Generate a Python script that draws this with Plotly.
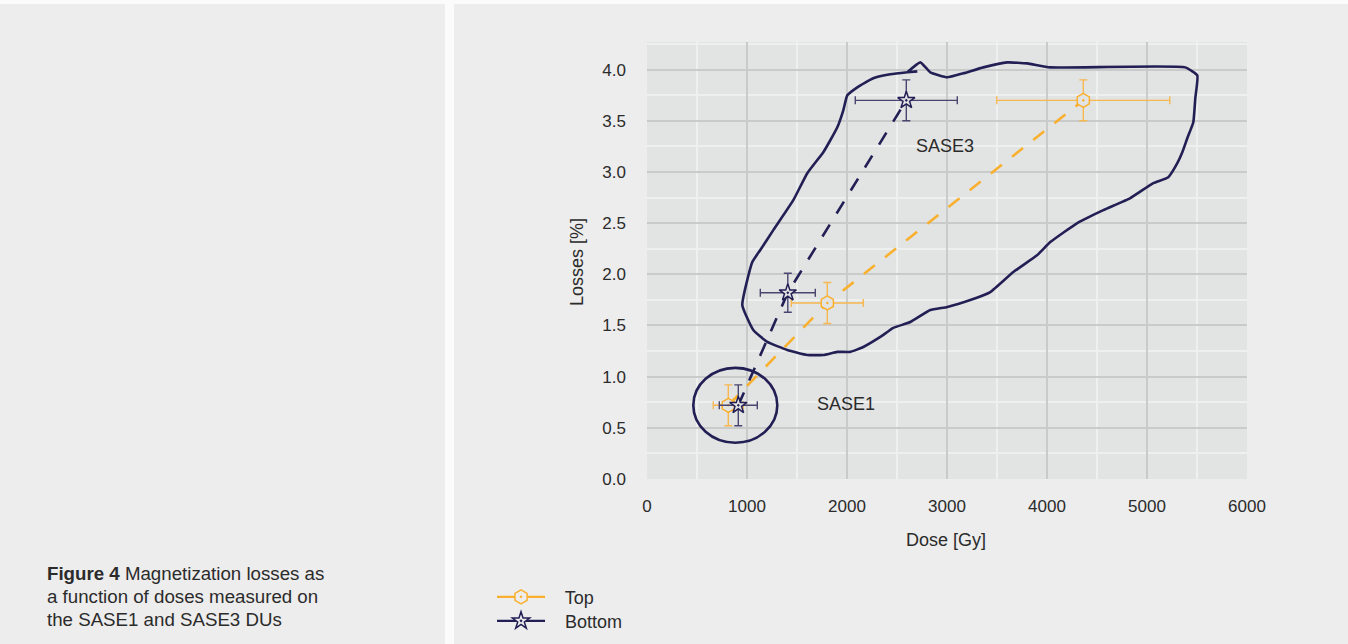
import plotly.graph_objects as go

# Mean dose [Gy] and magnetization losses [%] with their uncertainties
top_dose = [813, 1803, 4363]
top_loss = [0.72, 1.72, 3.70]
top_dose_err = [150, 360, 865]
top_loss_err = [0.20, 0.20, 0.20]

bottom_dose = [913, 1408, 2593]
bottom_loss = [0.72, 1.82, 3.70]
bottom_dose_err = [190, 275, 510]
bottom_loss_err = [0.20, 0.19, 0.20]

# Outline enclosing the SASE3 measurements
sase3_dose = [2603, 2733, 2833, 3003, 3163, 3363, 3603, 3803, 4033, 5383, 5503,
              5483, 5463, 5403, 5353, 5303, 5213, 5063, 4833, 4563, 4303, 4033,
              3903, 3663, 3433, 3233, 3003, 2833, 2633, 2463, 2333, 2163, 2033,
              1903, 1763, 1603, 1403, 1203, 1063, 953, 1053, 1133, 1263, 1463,
              1603, 1763, 1833, 1903, 1963, 2003, 2103, 2263, 2433, 2603, 2703]
sase3_loss = [3.974, 4.071, 3.974, 3.925, 3.964, 4.022, 4.071, 4.061, 4.022,
              4.022, 3.944, 3.720, 3.486, 3.330, 3.193, 3.086, 2.949, 2.891,
              2.745, 2.627, 2.501, 2.315, 2.188, 2.022, 1.827, 1.749, 1.681,
              1.651, 1.534, 1.476, 1.388, 1.290, 1.242, 1.242, 1.212, 1.212,
              1.261, 1.339, 1.456, 1.700, 2.120, 2.237, 2.432, 2.725, 2.988,
              3.193, 3.310, 3.437, 3.603, 3.749, 3.827, 3.915, 3.954, 3.974,
              3.983]

# Ellipse enclosing the SASE1 measurements (centre and half-axes)
sase1_center = (883, 0.72)
sase1_half_axes = (420, 0.366)

group_labels = ["SASE3", "SASE1"]
group_label_dose = [2983, 1993]
group_label_loss = [3.25, 0.735]

series_names = ["Top", "Bottom"]
x_title = "Dose [Gy]"
y_title = "Losses [%]"

NAVY = "#221f55"
NAVY_ERR = "#48466f"
ORANGE = "#f9b02e"
ORANGE_ERR = "#f7b850"
PLOT_BG = "#e2e3e3"
PAGE_BG = "#ededed"
TEXT = "#2b2b2b"
FONT = "Liberation Sans, Arial, sans-serif"

fig = go.Figure()

# SASE3 outline
fig.add_trace(go.Scatter(
    x=sase3_dose, y=sase3_loss, mode="lines",
    line=dict(color=NAVY, width=2.6, shape="spline", smoothing=0.4),
    showlegend=False, hoverinfo="skip"))

# SASE1 ellipse
cx, cy = sase1_center
rx, ry = sase1_half_axes
fig.add_shape(type="circle", xref="x", yref="y",
              x0=cx - rx, x1=cx + rx, y0=cy - ry, y1=cy + ry,
              line=dict(color=NAVY, width=2.6), layer="above")

err_style = dict(thickness=1.4, width=4)

fig.add_trace(go.Scatter(
    x=top_dose, y=top_loss, mode="lines+markers", name=series_names[0],
    line=dict(color=ORANGE, width=2.6, dash="14px,13px"),
    marker=dict(symbol="hexagon-dot", size=14, color=PLOT_BG,
                line=dict(color=ORANGE, width=1.5)),
    error_x=dict(type="data", array=top_dose_err, color=ORANGE_ERR, **err_style),
    error_y=dict(type="data", array=top_loss_err, color=ORANGE_ERR, **err_style),
    showlegend=False))

fig.add_trace(go.Scatter(
    x=bottom_dose, y=bottom_loss, mode="lines+markers", name=series_names[1],
    line=dict(color=NAVY, width=2.6, dash="14px,13px"),
    marker=dict(symbol="star-dot", size=13, color=PLOT_BG,
                line=dict(color=NAVY, width=1.5)),
    error_x=dict(type="data", array=bottom_dose_err, color=NAVY_ERR, **err_style),
    error_y=dict(type="data", array=bottom_loss_err, color=NAVY_ERR, **err_style),
    showlegend=False))

# Legend entries, one legend box per series
fig.add_trace(go.Scatter(
    x=[None], y=[None], mode="lines+markers", name="   " + series_names[0],
    line=dict(color=ORANGE, width=2.4), legend="legend",
    marker=dict(symbol="hexagon-dot", size=14, color=PAGE_BG,
                line=dict(color=ORANGE, width=1.5))))
fig.add_trace(go.Scatter(
    x=[None], y=[None], mode="lines+markers", name="   " + series_names[1],
    line=dict(color=NAVY, width=2.4), legend="legend2",
    marker=dict(symbol="star-dot", size=13, color=PAGE_BG,
                line=dict(color=NAVY, width=1.5))))

for label, xd, yd in zip(group_labels, group_label_dose, group_label_loss):
    fig.add_annotation(x=xd, y=yd, text=label, showarrow=False,
                       font=dict(size=18, color=TEXT, family=FONT))

# Axis titles
fig.add_annotation(xref="paper", yref="paper", x=0.498, y=-0.1387,
                   text=x_title, showarrow=False, xanchor="center",
                   yanchor="middle", font=dict(size=18, color=TEXT, family=FONT))
fig.add_annotation(xref="paper", yref="paper", x=-0.1167, y=0.4966,
                   text=y_title, showarrow=False, textangle=-90,
                   xanchor="center", yanchor="middle",
                   font=dict(size=18, color=TEXT, family=FONT))

# Caption in the left panel
caption_lines = ["<b>Figure 4</b> Magnetization losses as",
                 "a function of doses measured on",
                 "the SASE1 and SASE3 DUs"]
for i, line in enumerate(caption_lines):
    fig.add_annotation(xref="paper", yref="paper", x=-1.0033,
                       y=-0.2164 - i * 0.0526, text=line, showarrow=False,
                       xanchor="left", yanchor="middle", align="left",
                       font=dict(size=18.7, color=TEXT, family=FONT))

# White divider between the caption panel and the chart panel, and top strip
fig.add_shape(type="rect", xref="paper", yref="paper",
              x0=-0.3367, x1=-0.3217, y0=-0.40, y1=1.12,
              fillcolor="#fbfbfb", line=dict(width=0), layer="below")
fig.add_shape(type="rect", xref="paper", yref="paper",
              x0=-1.1, x1=1.2, y0=1.087, y1=1.12,
              fillcolor="#fbfbfb", line=dict(width=0), layer="below")

axis_common = dict(
    showline=False, zeroline=False, ticks="",
    gridcolor="#c9caca", gridwidth=2.2,
    tickfont=dict(size=17, color=TEXT, family=FONT),
)

fig.update_xaxes(
    range=[0, 6000], dtick=1000, ticklabelstandoff=15,
    minor=dict(dtick=500, showgrid=True, gridcolor="#eeefef", gridwidth=2.2),
    **axis_common)
fig.update_yaxes(
    range=[0, 4.27], dtick=0.5, tickformat=".1f", ticklabelstandoff=20,
    minor=dict(dtick=0.25, showgrid=True, gridcolor="#eeefef", gridwidth=2.2),
    **axis_common)

legend_style = dict(xref="container", yref="container", x=0.365,
                    xanchor="left", yanchor="top", bgcolor="rgba(0,0,0,0)",
                    font=dict(size=18, color=TEXT, family=FONT),
                    itemwidth=48)

fig.update_layout(
    width=1348, height=644,
    margin=dict(l=647, r=101, t=42, b=165, autoexpand=False),
    paper_bgcolor=PAGE_BG, plot_bgcolor=PLOT_BG,
    font=dict(family=FONT, color=TEXT),
    legend=dict(y=0.1015, **legend_style),
    legend2=dict(y=0.0642, **legend_style),
)

fig.write_html("out.html")
